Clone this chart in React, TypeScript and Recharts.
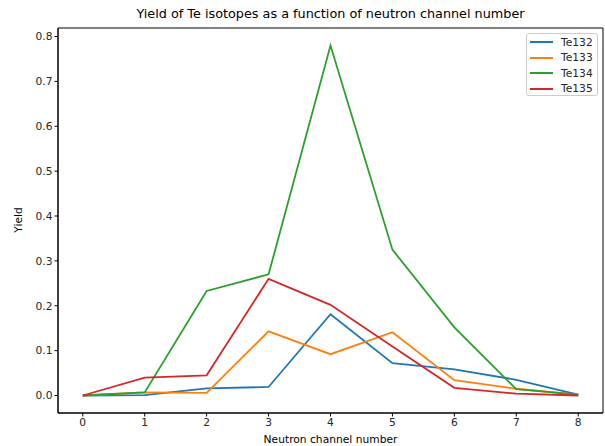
import React from "react";
import { LineChart, Line, XAxis, YAxis, ReferenceArea } from "recharts";

const channels = [0, 1, 2, 3, 4, 5, 6, 7, 8];
const te132 = [0.0, 0.001, 0.016, 0.019, 0.181, 0.072, 0.058, 0.035, 0.002];
const te133 = [0.0, 0.007, 0.006, 0.143, 0.092, 0.141, 0.034, 0.015, 0.002];
const te134 = [0.0, 0.007, 0.233, 0.270, 0.780, 0.325, 0.152, 0.014, 0.002];
const te135 = [0.0, 0.040, 0.045, 0.260, 0.202, 0.109, 0.017, 0.004, 0.0];
const xTicks = [0, 1, 2, 3, 4, 5, 6, 7, 8];
const yTicks = [0, 0.1, 0.2, 0.3, 0.4, 0.5, 0.6, 0.7, 0.8];

const series = [
  { key: "Te132", values: te132, color: "#1f77b4" },
  { key: "Te133", values: te133, color: "#ff7f0e" },
  { key: "Te134", values: te134, color: "#2ca02c" },
  { key: "Te135", values: te135, color: "#d62728" },
];

const data = channels.map((c, i) => {
  const row: any = { x: c };
  series.forEach((s) => (row[s.key] = s.values[i]));
  return row;
});

const FONT = "'DejaVu Sans', sans-serif";
const tickStyle = { fontSize: 10.7, fill: "#262626", fontFamily: FONT };

const LegendBox = () => (
  <div
    style={{
      position: "absolute",
      left: 526,
      top: 33,
      width: 72,
      height: 63,
      boxSizing: "border-box",
      border: "1px solid #cccccc",
      borderRadius: 3,
      background: "rgba(255,255,255,0.8)",
      fontFamily: FONT,
      fontSize: 10.7,
      color: "#262626",
    }}
  >
    {series.map((s, i) => (
      <div
        key={s.key}
        style={{ position: "absolute", left: 3, top: 1 + i * 15.6, display: "flex", alignItems: "center", height: 14 }}
      >
        <div style={{ width: 23, height: 2, background: s.color, marginRight: 8 }} />
        <span>{s.key}</span>
      </div>
    ))}
  </div>
);

export default function App() {
  return (
    <div style={{ position: "absolute", left: 0, top: 0, width: 605, height: 446, background: "#fff" }}>
      <div
        style={{
          position: "absolute",
          left: 58,
          width: 545,
          top: 6,
          textAlign: "center",
          fontFamily: FONT,
          fontSize: 12.8,
          color: "#000",
        }}
      >
        Yield of Te isotopes as a function of neutron channel number
      </div>
      <div
        style={{
          position: "absolute",
          left: 58,
          width: 545,
          top: 433,
          textAlign: "center",
          fontFamily: FONT,
          fontSize: 10.7,
          color: "#000",
        }}
      >
        Neutron channel number
      </div>
      <div
        style={{
          position: "absolute",
          left: 18,
          top: 220,
          transform: "translate(-50%, -50%) rotate(-90deg)",
          fontFamily: FONT,
          fontSize: 10.7,
          color: "#000",
        }}
      >
        Yield
      </div>
      <LineChart
        width={605}
        height={446}
        data={data}
        margin={{ top: 28, right: 2, bottom: 3, left: 0 }}
      >
        <XAxis
          dataKey="x"
          type="number"
          domain={[-0.4, 8.4]}
          ticks={xTicks}
          tick={tickStyle}
          tickLine={{ stroke: "#000" }}
          tickSize={3.5}
          axisLine={{ stroke: "#000" }}
          allowDataOverflow
          height={30}
          interval={0}
        />
        <YAxis
          type="number"
          domain={[-0.039, 0.819]}
          ticks={yTicks}
          tick={tickStyle}
          tickFormatter={(v: number) => v.toFixed(1)}
          tickLine={{ stroke: "#000" }}
          tickSize={3.5}
          axisLine={{ stroke: "#000" }}
          allowDataOverflow
          width={58}
          interval={0}
        />
        <ReferenceArea
          x1={-0.4}
          x2={8.4}
          y1={-0.039}
          y2={0.819}
          fill="none"
          stroke="#000"
          strokeWidth={1}
          ifOverflow="visible"
        />
        {series.map((s) => (
          <Line
            key={s.key}
            dataKey={s.key}
            stroke={s.color}
            strokeWidth={1.8}
            dot={false}
            isAnimationActive={false}
            type="linear"
          />
        ))}
      </LineChart>
      <LegendBox />
    </div>
  );
}
